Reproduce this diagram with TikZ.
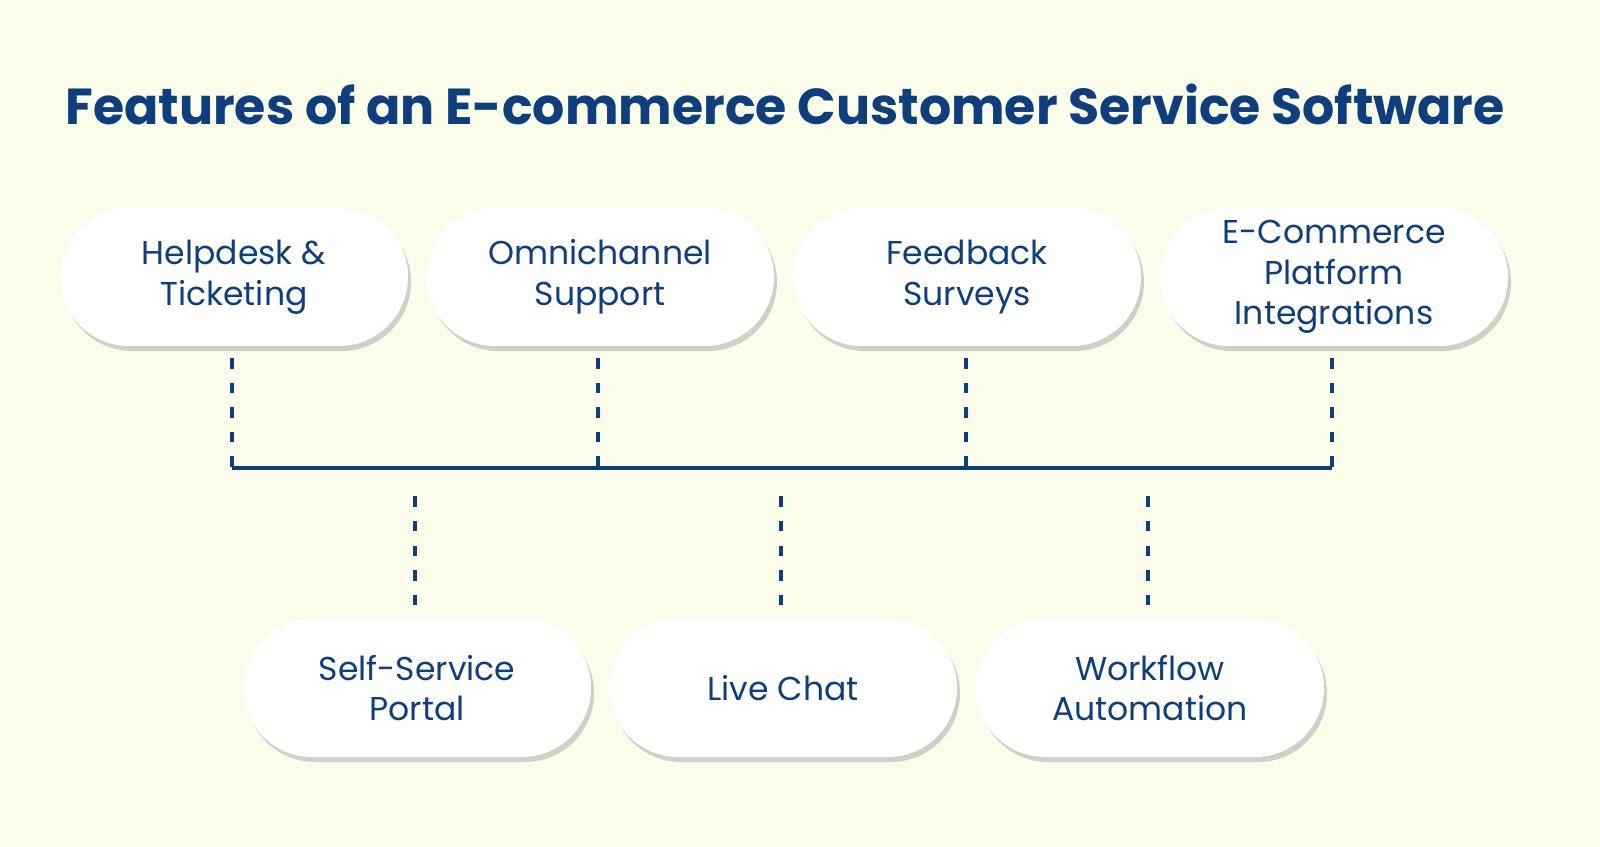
\documentclass[tikz,border=0pt]{standalone}
\usepackage{fontspec}
\setmainfont{Poppins}
\usetikzlibrary{shadows,calc}
\definecolor{bgcol}{HTML}{FAFDEA}
\definecolor{navy}{HTML}{0E3F7C}
\tikzset{
  pill/.style={draw=none, fill=white, rounded corners=0.69cm, minimum width=3.48cm,
    minimum height=1.38cm, align=center, text=navy, font=\fontsize{9.4}{11.6}\selectfont,
    drop shadow={shadow xshift=0.03cm, shadow yshift=-0.05cm, fill=black!35, opacity=0.5}},
  dropline/.style={navy, line width=1.2pt, dash pattern=on 3pt off 4pt},
  bus/.style={navy, line width=1.3pt}
}
\begin{document}
\begin{tikzpicture}
    \fill[bgcol] (0,0) rectangle (16,-8.47);
    \useasboundingbox (0,0) rectangle (16,-8.47);

    % title
    \node[text=navy, font=\fontsize{14.4}{17}\selectfont\bfseries] (title) at (7.85,-1.04)
        {Features of an E-commerce Customer Service Software};

    % top row
    \node[pill] (helpdesk) at (2.34,-2.77) {Helpdesk \&\\Ticketing};
    \node[pill] (omni) at (6.00,-2.77) {Omnichannel\\Support};
    \node[pill] (feedback) at (9.67,-2.77) {Feedback\\Surveys};
    \node[pill] (ecom) at (13.34,-2.77) {E-Commerce\\Platform\\Integrations};

    % bottom row
    \node[pill] (selfserv) at (4.17,-6.88) {Self-Service\\Portal};
    \node[pill] (chat) at (7.83,-6.88) {Live Chat};
    \node[pill] (workflow) at (11.50,-6.88) {Workflow\\Automation};

    % bus
    \coordinate (b1) at (2.32,-4.68);
    \coordinate (b2) at (5.98,-4.68);
    \coordinate (b3) at (9.66,-4.68);
    \coordinate (b4) at (13.32,-4.68);
    \draw[bus] (b1) -- (b4);

    % dashed drops from top row
    \foreach \n/\b in {helpdesk/b1, omni/b2, feedback/b3, ecom/b4}
        \draw[dropline] ($(\b)+(0,1.1)$) -- (\b);

    % dashed risers to bottom row
    \foreach \n in {selfserv, chat, workflow}
        \draw[dropline] ($(\n.north)+(-0.02,0.13)$) -- ($(\n.north)+(-0.02,1.25)$);
\end{tikzpicture}
\end{document}
